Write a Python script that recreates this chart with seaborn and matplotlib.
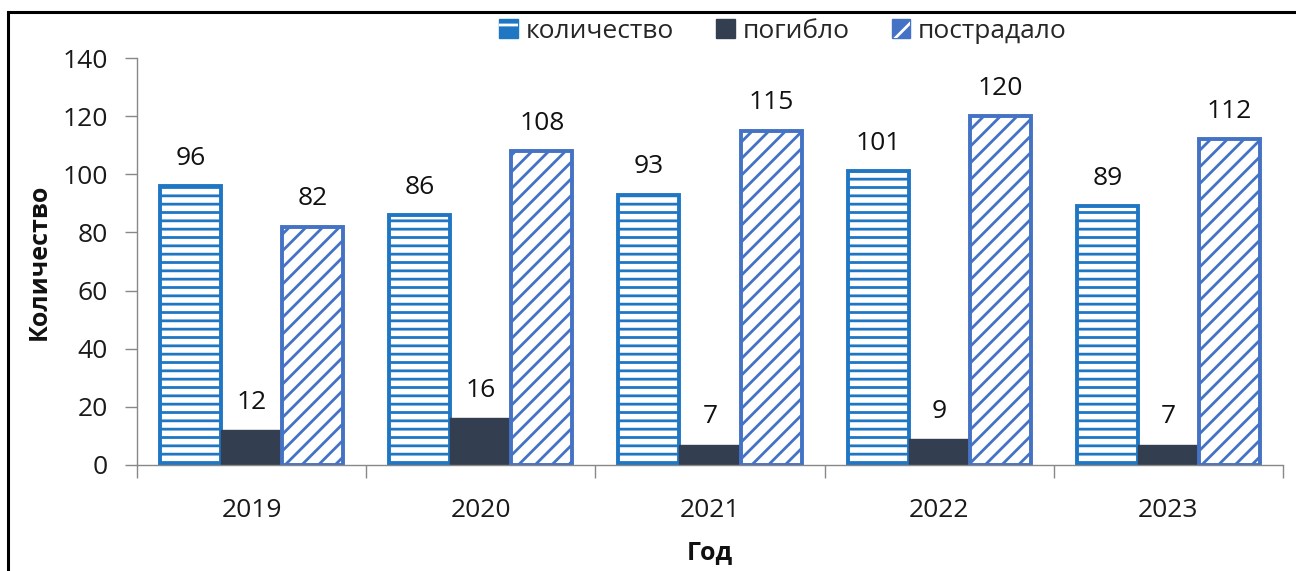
import matplotlib
matplotlib.use("Agg")
import matplotlib.pyplot as plt
from matplotlib.patches import Patch, Rectangle
from matplotlib.legend_handler import HandlerTuple
import seaborn as sns
import pandas as pd

years = ["2019", "2020", "2021", "2022", "2023"]
series_names = ["количество", "погибло", "пострадало"]
count_values = [96, 86, 93, 101, 89]
killed_values = [12, 16, 7, 9, 7]
injured_values = [82, 108, 115, 120, 112]
y_ticks = [0, 20, 40, 60, 80, 100, 120, 140]

edge_colors = ["#1F77C4", "#333F50", "#4472C4"]
face_colors = ["white", "#333F50", "white"]
hatches = ["--", None, "//"]
FS = 19

sns.set_theme(style="white")
plt.rcParams["font.family"] = ["Open Sans", "DejaVu Sans"]
plt.rcParams["hatch.linewidth"] = 2.0

df = pd.DataFrame({
    "Год": years * 3,
    "value": count_values + killed_values + injured_values,
    "series": [s for s in series_names for _ in years],
})

fig = plt.figure(figsize=(12.96, 5.71), dpi=100)
ax = fig.add_axes([137 / 1296, 1 - 465 / 571, (1283 - 137) / 1296, (465 - 58) / 571])

sns.barplot(data=df, x="Год", y="value", hue="series", hue_order=series_names,
            palette=edge_colors, width=0.8, ax=ax, legend=False, saturation=1)

for i, cont in enumerate(ax.containers):
    for bar in cont:
        bar.set_facecolor(face_colors[i])
        bar.set_edgecolor(edge_colors[i])
        bar.set_linewidth(2.8 if hatches[i] else 1)
        if hatches[i]:
            bar.set_hatch(hatches[i])
    ax.bar_label(cont, fmt="%d", padding=11, fontsize=FS, color="#111111")

ax.set_ylim(0, 140)
ax.set_yticks(y_ticks)
ax.set_xlim(-0.5, len(years) - 0.5)

# category separators on the x axis
ax.set_xticks([i - 0.5 for i in range(len(years) + 1)], minor=True)
ax.tick_params(axis="x", which="minor", length=9, width=1, color="#888888", direction="out", bottom=True)
ax.tick_params(axis="x", which="major", length=0, pad=24, labelsize=FS, labelcolor="#1a1a1a")
ax.tick_params(axis="y", length=9, width=1, color="#888888", direction="out", left=True,
               pad=12, labelsize=FS, labelcolor="#1a1a1a")

for side in ["top", "right"]:
    ax.spines[side].set_visible(False)
for side in ["left", "bottom"]:
    ax.spines[side].set_color("#888888")
    ax.spines[side].set_linewidth(1)

ax.set_xlabel("Год", fontsize=FS - 1, fontweight="bold", labelpad=12, color="#111111")
ax.set_ylabel("Количество", fontsize=FS - 1, fontweight="bold", labelpad=8, color="#111111")

# legend keys: solid squares with a white hatch on top
base = [Patch(facecolor=c, edgecolor=c, linewidth=1) for c in edge_colors]
overlay = [
    Patch(facecolor="none", edgecolor="white", hatch="-", linewidth=0),
    None,
    Patch(facecolor="none", edgecolor="white", hatch="/", linewidth=0),
]
handles = [(b, o) if o is not None else b for b, o in zip(base, overlay)]
fig.legend(handles, series_names, loc="center", bbox_to_anchor=(783 / 1296, 1 - 31 / 571),
           ncol=3, frameon=False, fontsize=FS, handlelength=0.7, handleheight=0.7,
           handletextpad=0.3, columnspacing=1.6,
           handler_map={tuple: HandlerTuple(ndivide=1, pad=0)})

# outer frame
fig.patches.append(Rectangle((8 / 1296, -0.1), 1.2, 0.1 + 1 - 12 / 571,
                             transform=fig.transFigure, fill=False,
                             edgecolor="black", linewidth=2.2))

fig.savefig("out.png", dpi=100)
